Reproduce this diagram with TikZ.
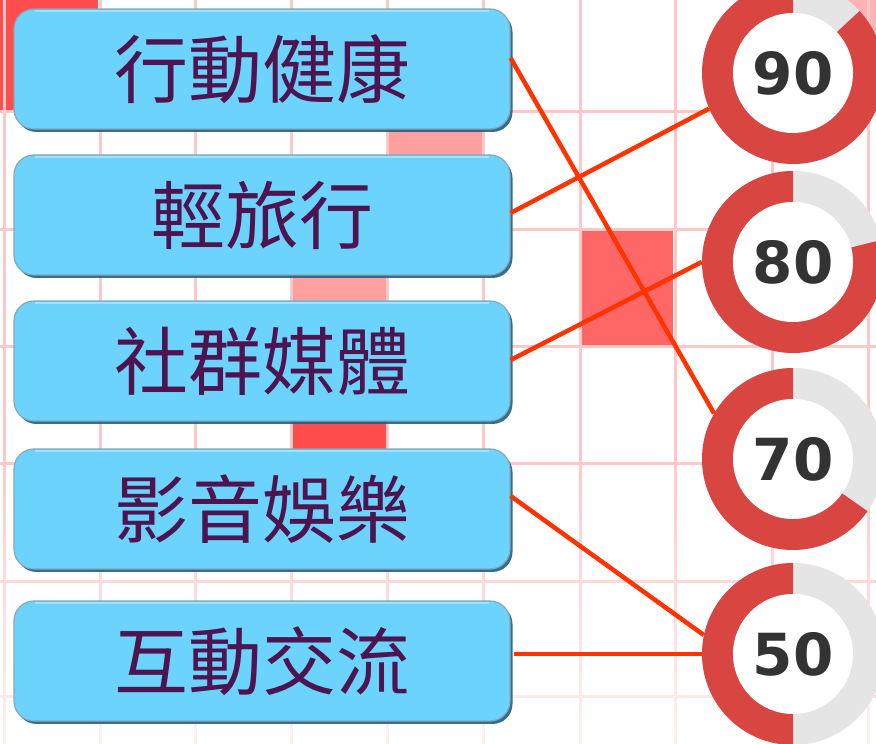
\documentclass[tikz,border=0pt]{standalone}
\usepackage{fontspec}
\newfontfamily\cjk{Noto Sans CJK TC}
\newfontfamily\numfont{DejaVu Sans}
\usepackage{tikz}
\usetikzlibrary{shadows,fadings}
\usepackage{xcolor}
\definecolor{gridpink}{RGB}{255,200,200}
\definecolor{cellred}{RGB}{255,77,77}
\definecolor{cellpale}{RGB}{255,160,160}
\definecolor{cellmid}{RGB}{255,102,102}
\definecolor{boxblue}{RGB}{108,212,252}
\definecolor{boxedge}{RGB}{35,95,130}
\definecolor{txtpurple}{RGB}{77,20,80}
\definecolor{ringred}{RGB}{217,69,64}
\definecolor{ringgray}{RGB}{229,229,229}
\definecolor{numgray}{RGB}{51,51,51}
\definecolor{linered}{RGB}{255,51,0}
\tikzstyle{item} = [rectangle, rounded corners=20pt, minimum width=496pt, minimum height=120pt, inner sep=0pt, fill=boxblue, draw=boxedge!55, line width=1.2pt, drop shadow={shadow xshift=2.5pt,shadow yshift=-3pt,fill=boxedge,opacity=0.9}, text=txtpurple, font=\cjk\fontsize{74}{74}\selectfont]
\tikzstyle{ring} = [circle, minimum size=182pt, inner sep=0pt, text=numgray, font=\numfont\bfseries\fontsize{58}{58}\selectfont]
\tikzstyle{link} = [line width=4.5pt, color=linered]

\begin{document}
\begin{tikzpicture}[x=1pt, y=1pt]
\useasboundingbox (0,0) rectangle (876,744);
\clip (0,0) rectangle (876,744);
\fill[white] (0,0) rectangle (876,744);

% Grid cells
\fill[cellred] (0,634) rectangle (98,744);
\fill[cellpale!80] (774,634) rectangle (876,744);
\fill[cellpale] (389,514) rectangle (485,632);
\fill[cellpale] (292,397) rectangle (387,514);
\fill[cellred] (292,280) rectangle (387,397);
\fill[cellmid] (582,397) rectangle (673,514);

% Grid lines
\foreach \x in {4,100,195,291,387,483,580,675,772,868}
    \draw[gridpink, line width=3pt] (\x,0) -- (\x,744);
\foreach \y in {632,514,397,280,162,47}
    \draw[gridpink, line width=3pt] (0,\y) -- (876,\y);
\fill[white, path fading=north, opacity=0.75] (0,0) rectangle (876,290);

% Items
\node[item] (b1) at (262,675) {行動健康};
\node[item] (b2) at (262,529) {輕旅行};
\node[item] (b3) at (262,383) {社群媒體};
\node[item] (b4) at (262,235) {影音娛樂};
\node[item] (b5) at (262,83) {互動交流};
\draw[white, opacity=0.35, line width=2pt] ([xshift=22pt,yshift=-3pt]b1.north west) -- ([xshift=-22pt,yshift=-3pt]b1.north east);
\foreach \b in {b2,b3,b4,b5}
    \draw[white, opacity=0.35, line width=2pt] ([xshift=22pt,yshift=-3pt]\b.north west) -- ([xshift=-22pt,yshift=-3pt]\b.north east);

% Rings
\foreach \nm/\y/\g/\v in {r90/671/47/90, r80/482/76/80, r70/285/125/70, r50/90/180/50} {
    \fill[ringgray] (793,\y) circle (91);
    \fill[ringred] (793,\y) -- ++(90:91) arc[start angle=90, end angle=450-\g, radius=91] -- cycle;
    \fill[white] (793,\y) circle (60);
    \node[ring] (\nm) at (793,\y) {\v};
}

% Links
\draw[link] ([yshift=11pt]b1.east) -- (r70.150);
\draw[link] ([yshift=2pt]b2.east) -- (r90.203);
\draw[link] ([yshift=1pt]b3.east) -- (r80.180);
\draw[link] ([yshift=13pt]b4.east) -- (r50.168);
\draw[link] ([xshift=3pt,yshift=7pt]b5.east) -- (r50.180);
\end{tikzpicture}
\end{document}
